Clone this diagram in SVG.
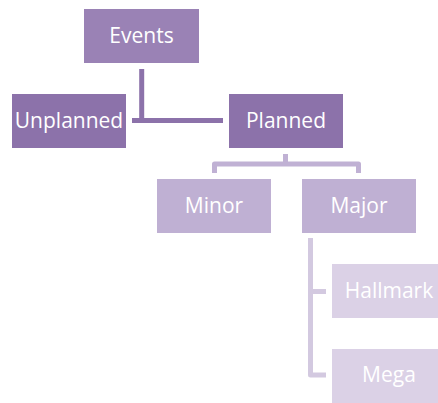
<svg xmlns="http://www.w3.org/2000/svg" width="438" height="403" viewBox="0 0 438 403">
<style>
text{font-family:"Open Sans","Liberation Sans",sans-serif;font-size:21px;fill:#fff;text-anchor:middle}
.c1{fill:none;stroke:#8c72aa;stroke-width:5}
.c2{fill:none;stroke:#c0b1d4;stroke-width:5;stroke-linejoin:round}
.c3{fill:none;stroke:#d3c9e0;stroke-width:5;stroke-linejoin:round}
</style>
<rect width="438" height="403" fill="#fff"/>
<g id="connectors">
<path class="c1" d="M141.7,69 V120.5 M132,120.5 H223"/>
<path class="c2" d="M285.5,154 V164 M214.5,173 V164 H358.5 V173"/>
<path class="c3" d="M310.5,238 V375 H326 M310.5,291.5 H326"/>
</g>
<g id="events"><rect x="84" y="9" width="115" height="54" fill="#9a82b5"/><text x="141.5" y="43">Events</text></g>
<g id="unplanned"><rect x="12" y="94" width="114" height="54" fill="#8c72aa"/><text x="69" y="128">Unplanned</text></g>
<g id="planned"><rect x="229" y="94" width="114" height="54" fill="#8c72aa"/><text x="286" y="128">Planned</text></g>
<g id="minor"><rect x="157" y="179" width="114" height="54" fill="#bfb0d3"/><text x="214" y="213">Minor</text></g>
<g id="major"><rect x="302" y="179" width="114" height="54" fill="#bfb0d3"/><text x="359" y="213">Major</text></g>
<g id="hallmark"><rect x="332" y="264" width="114" height="54" fill="#dbd1e6"/><text x="389" y="298">Hallmark</text></g>
<g id="mega"><rect x="332" y="349" width="114" height="54" fill="#dbd1e6"/><text x="389" y="382">Mega</text></g>
</svg>
